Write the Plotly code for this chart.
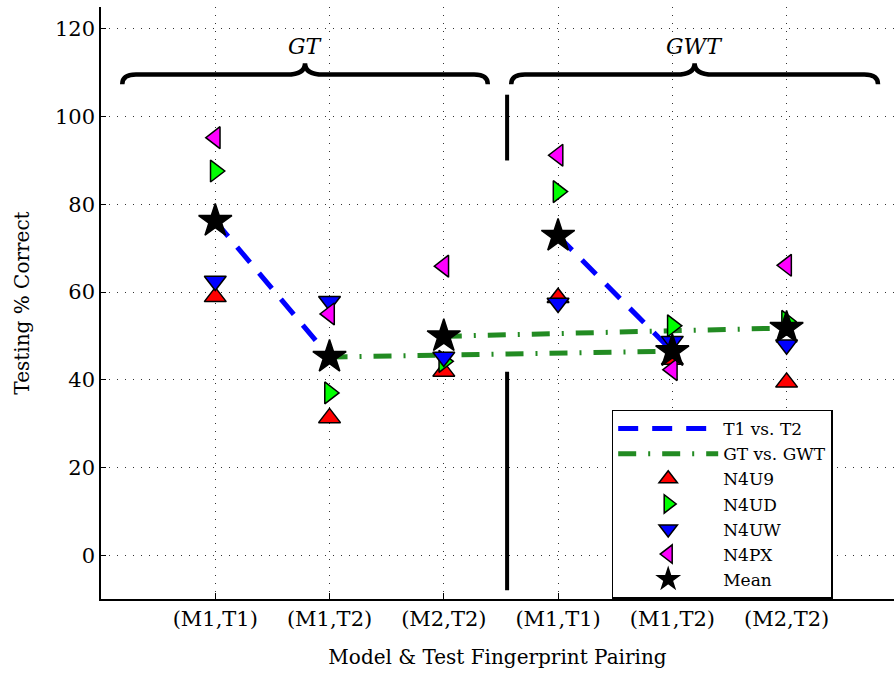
import plotly.graph_objects as go

# ---------------- data ----------------
x_pos = [1, 2, 3, 4, 5, 6]
tick_labels = ["(M1,T1)", "(M1,T2)", "(M2,T2)", "(M1,T1)", "(M1,T2)", "(M2,T2)"]

n4u9 = [58.9, 31.3, 41.9, 58.7, 44.6, 39.4]
n4ud = [87.6, 37.0, 44.2, 82.9, 52.3, 53.3]
n4uw = [62.5, 57.9, 45.2, 57.5, 48.8, 48.0]
n4px = [95.2, 55.0, 65.9, 91.2, 42.3, 66.1]
mean = [76.2, 45.2, 49.9, 72.8, 46.5, 51.8]

# T1 vs T2 pairs (x indices) and GT vs GWT pairs
t1t2_pairs = [(0, 1), (3, 4)]
gtgwt_pairs = [(1, 4), (2, 5)]

group_labels = ["<i>GT</i>", "<i>GWT</i>"]

FONT = "DejaVu Serif"

fig = go.Figure()

# blue dashed T1 vs T2
bx, by = [], []
for a, b in t1t2_pairs:
    bx += [x_pos[a], x_pos[b], None]
    by += [mean[a], mean[b], None]
fig.add_trace(go.Scatter(x=bx, y=by, mode="lines", name="T1 vs. T2",
                         line=dict(color="#0000FF", width=5, dash="20px,14px")))

gx, gy = [], []
for a, b in gtgwt_pairs:
    gx += [x_pos[a], x_pos[b], None]
    gy += [mean[a], mean[b], None]
fig.add_trace(go.Scatter(x=gx, y=gy, mode="lines", name="GT vs. GWT",
                         line=dict(color="#228B22", width=5, dash="18px,12px,2px,12px")))

mk_line = dict(color="black", width=1.5)
series = [
    ("N4U9", n4u9, "triangle-up", "#FF0000", 19),
    ("N4UD", n4ud, "triangle-right", "#00FF00", 19),
    ("N4UW", n4uw, "triangle-down", "#0000FF", 19),
    ("N4PX", n4px, "triangle-left", "#FF00FF", 19),
    ("Mean", mean, "star", "#000000", 25),
]
for name, vals, sym, col, sz in series:
    fig.add_trace(go.Scatter(x=x_pos, y=vals, mode="markers", name=name,
                             marker=dict(symbol=sym, color=col, size=sz, line=mk_line)))

# vertical separator
sep_x = 3.554
for y0, y1 in [(90, 105), (-8, 41.8)]:
    fig.add_shape(type="line", xref="x", yref="y", x0=sep_x, x1=sep_x, y0=y0, y1=y1,
                  line=dict(color="black", width=4))

# braces
def brace(x0, x1, ye=107.4, yb=109.6, yt=112.2, de=0.12, dt=0.16):
    xc = (x0 + x1) / 2
    return (f"M{x0},{ye} Q{x0},{yb} {x0+de},{yb} L{xc-dt},{yb} "
            f"Q{xc},{yb} {xc},{yt} Q{xc},{yb} {xc+dt},{yb} "
            f"L{x1-de},{yb} Q{x1},{yb} {x1},{ye}")

for (x0, x1), lab in zip([(0.186, 3.385), (3.59, 6.80)], group_labels):
    fig.add_shape(type="path", xref="x", yref="y", path=brace(x0, x1),
                  line=dict(color="black", width=4.5))
    fig.add_annotation(x=(x0 + x1) / 2, y=115.9, xref="x", yref="y", text=lab,
                       showarrow=False, font=dict(family=FONT, size=22, color="black"))

grid = dict(showgrid=True, gridcolor="#333333", gridwidth=1, griddash="1px,7px")

fig.update_xaxes(range=[0, 6.94], tickvals=x_pos, ticktext=tick_labels,
                 ticks="inside", ticklen=6, tickcolor="black", tickwidth=1,
                 showline=True, linecolor="black", linewidth=1.5, mirror=False,
                 zeroline=False, tickfont=dict(family=FONT, size=21, color="black"),
                 title=dict(text="Model &amp; Test Fingerprint Pairing", standoff=20,
                            font=dict(family=FONT, size=20, color="black")),
                 **grid)
fig.update_yaxes(range=[-10, 125], tickvals=[0, 20, 40, 60, 80, 100, 120],
                 ticks="inside", ticklen=5, tickcolor="black", tickwidth=1,
                 showline=True, linecolor="black", linewidth=1.5, mirror=False,
                 zeroline=False, tickfont=dict(family=FONT, size=21, color="black"),
                 title=dict(text="Testing % Correct", standoff=20,
                            font=dict(family=FONT, size=20, color="black")),
                 **grid)

fig.update_layout(
    width=894, height=673,
    margin=dict(l=101, r=0, t=7, b=74, autoexpand=False),
    plot_bgcolor="white", paper_bgcolor="white",
    font=dict(family=FONT, color="black"),
    legend=dict(x=0.644, y=0.32, xanchor="left", yanchor="top",
                bgcolor="white", bordercolor="black", borderwidth=1.5,
                font=dict(family=FONT, size=17, color="black"),
                itemwidth=100, tracegroupgap=0),
    showlegend=True,
)

fig.write_html("out.html", config={"displayModeBar": False},
               post_script="document.body.style.margin='0';document.body.style.overflow='hidden';")
